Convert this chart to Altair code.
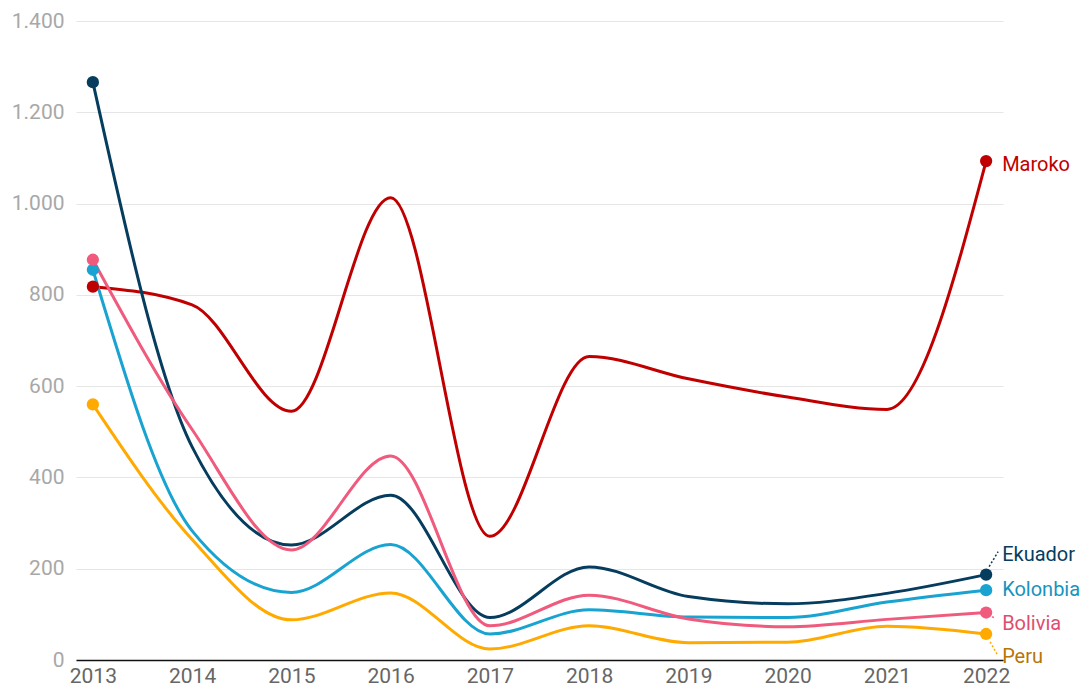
import altair as alt
import pandas as pd

years = [2013, 2014, 2015, 2016, 2017, 2018, 2019, 2020, 2021, 2022]
maroko = [818, 778, 545, 1013, 271, 665, 616, 576, 549, 1093]
ekuador = [1266, 467, 252, 361, 93, 204, 139, 123, 146, 187]
kolonbia = [855, 283, 148, 253, 57, 110, 94, 93, 127, 153]
bolivia = [877, 505, 241, 447, 75, 142, 90, 73, 89, 104]
peru = [560, 264, 88, 147, 24, 75, 38, 39, 74, 57]

series_names = ["Maroko", "Ekuador", "Kolonbia", "Bolivia", "Peru"]
series_values = [maroko, ekuador, kolonbia, bolivia, peru]
line_colors = ["#c00000", "#063d5f", "#19a3d1", "#ef5a7d", "#ffaa00"]
label_colors = ["#c00000", "#063d5f", "#1893bd", "#e04d6f", "#b97406"]

rows = []
for name, vals in zip(series_names, series_values):
    for y, v in zip(years, vals):
        rows.append({"country": name, "year": y, "value": v})
df = pd.DataFrame(rows)

x_enc = alt.X("year:Q",
              scale=alt.Scale(domain=[2012.83, 2022.17], nice=False, zero=False),
              axis=alt.Axis(values=years, format="d", title=None, grid=False,
                            ticks=False, domain=True, domainColor="#111111",
                            domainWidth=1.6, labelColor="#666666", labelFontSize=21,
                            labelPadding=5, labelFont="Roboto"))
y_enc = alt.Y("value:Q",
              scale=alt.Scale(domain=[0, 1400], nice=False),
              axis=alt.Axis(values=[0, 200, 400, 600, 800, 1000, 1200, 1400],
                            title=None, ticks=False, domain=False,
                            gridColor="#e6e6e6", gridWidth=1.2,
                            labelColor="#a8a8a8", labelFontSize=21,
                            labelPadding=12, labelFont="Roboto",
                            labelExpr="replace(format(datum.value, ','), ',', '.')"))

color_scale = alt.Scale(domain=series_names, range=line_colors)

lines = alt.Chart(df).mark_line(interpolate="monotone", strokeWidth=3).encode(
    x=x_enc, y=y_enc,
    color=alt.Color("country:N", scale=color_scale, legend=None),
    detail="country:N",
)

points = alt.Chart(df).transform_filter(
    "datum.year == 2013 || datum.year == 2022"
).mark_circle(size=150, opacity=1).encode(
    x="year:Q", y="value:Q",
    color=alt.Color("country:N", scale=color_scale, legend=None),
)

label_dy = {"Maroko": 4, "Ekuador": -20, "Kolonbia": 0, "Bolivia": 11, "Peru": 23}
connectors = {
    "Ekuador": (3, -8, 12, -23),
    "Bolivia": (6, 4, 9, 6),
    "Peru": (4, 8, 12, 22),
}

layers = [lines, points]
for name, lc, col in zip(series_names, label_colors, line_colors):
    sub = df[(df.country == name) & (df.year == 2022)]
    layers.append(
        alt.Chart(sub).mark_text(align="left", baseline="middle", dx=16,
                                 dy=label_dy[name], fontSize=20, font="Roboto",
                                 color=lc).encode(
            x="year:Q", y="value:Q", text="country:N")
    )
    if name in connectors:
        ox, oy, ox2, oy2 = connectors[name]
        layers.append(
            alt.Chart(sub).mark_rule(color=col, strokeWidth=1.5, strokeDash=[2, 2],
                                     xOffset=ox, yOffset=oy,
                                     x2Offset=ox2, y2Offset=oy2).encode(
                x="year:Q", y="value:Q", x2="year:Q", y2="value:Q")
        )

chart = alt.layer(*layers).properties(
    width=927, height=639,
    autosize=alt.AutoSizeParams(type="none"),
    padding={"left": 68, "top": 13, "right": 79, "bottom": 26},
).configure(font="Roboto").configure_view(stroke=None)

chart.save("out.html", embed_options={"renderer": "svg", "actions": False})
